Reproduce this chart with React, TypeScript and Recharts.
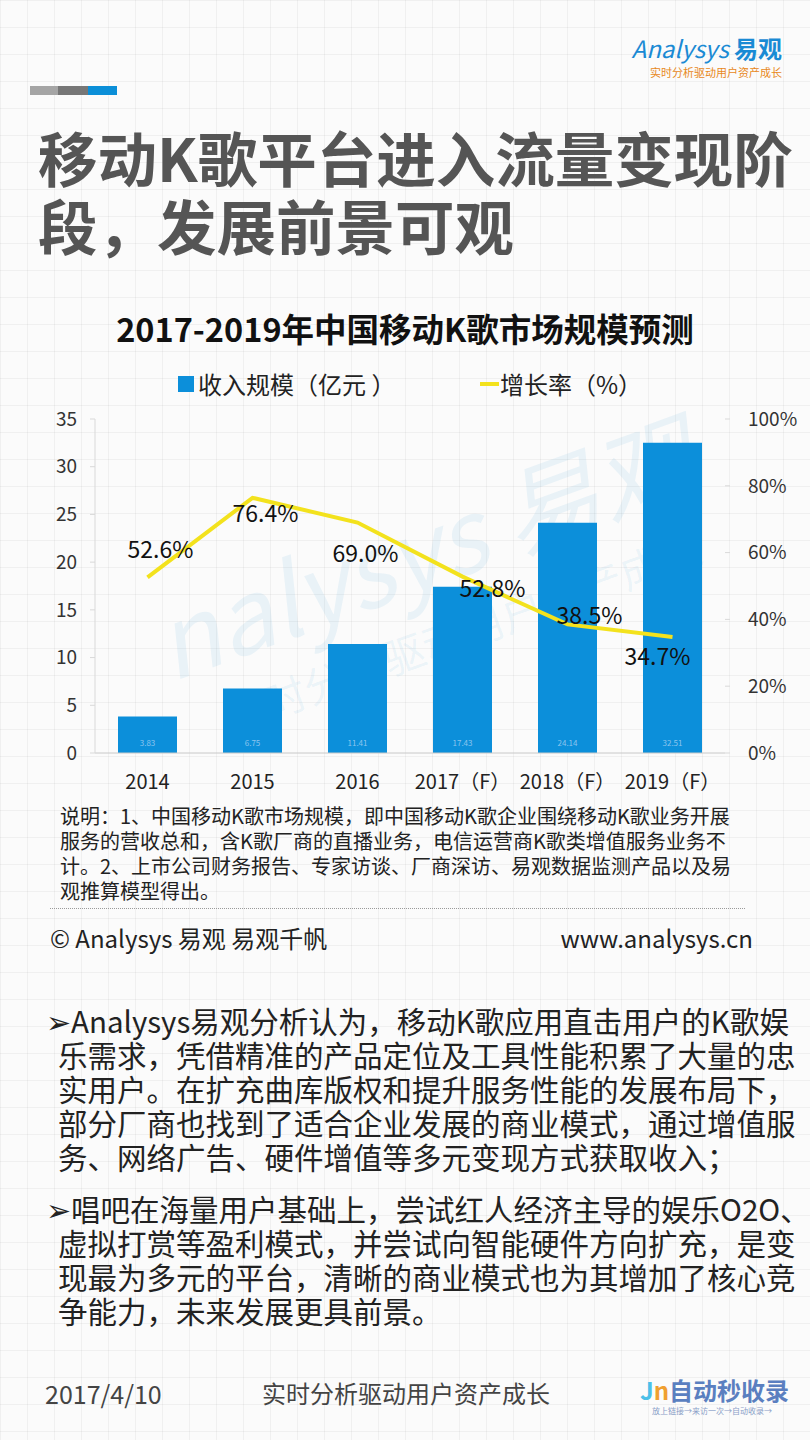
import React from 'react';
import { ComposedChart, Bar, Line, XAxis, YAxis, LabelList } from 'recharts';

const years = ['2014', '2015', '2016', '2017（F）', '2018（F）', '2019（F）'];
const revenue = [3.83, 6.75, 11.41, 17.43, 24.14, 32.51];
const growth = [52.6, 76.4, 69.0, 52.8, 38.5, 34.7];
const leftTicks = [0, 5, 10, 15, 20, 25, 30, 35];
const rightTicks = [0, 20, 40, 60, 80, 100];

// where each growth label sits relative to its point
const LABEL_OFFSETS = [
  [13, -29],
  [13, 14],
  [8, 29],
  [30, 10],
  [22, -10],
  [-15, 18],
];

const BLUE = '#0c8fda';
const YELLOW = '#f3e21d';
const FONT = '"Noto Sans CJK SC", "Noto Sans", sans-serif';

const rows = years.map((year, i) => ({ year, revenue: revenue[i], growth: growth[i] }));

const note = [
  '说明：1、中国移动K歌市场规模，即中国移动K歌企业围绕移动K歌业务开展',
  '服务的营收总和，含K歌厂商的直播业务，电信运营商K歌类增值服务业务不',
  '计。2、上市公司财务报告、专家访谈、厂商深访、易观数据监测产品以及易',
  '观推算模型得出。',
];

const bullet1 = [
  '➢Analysys易观分析认为，移动K歌应用直击用户的K歌娱',
  '乐需求，凭借精准的产品定位及工具性能积累了大量的忠',
  '实用户。在扩充曲库版权和提升服务性能的发展布局下，',
  '部分厂商也找到了适合企业发展的商业模式，通过增值服',
  '务、网络广告、硬件增值等多元变现方式获取收入；',
];

const bullet2 = [
  '➢唱吧在海量用户基础上，尝试红人经济主导的娱乐O2O、',
  '虚拟打赏等盈利模式，并尝试向智能硬件方向扩充，是变',
  '现最为多元的平台，清晰的商业模式也为其增加了核心竞',
  '争能力，未来发展更具前景。',
];

const renderGrowthLabel = (props: any) => {
  const { x, y, value, index } = props;
  const [dx, dy] = LABEL_OFFSETS[index] || [0, -20];
  return (
    <text
      x={x + dx}
      y={y + dy}
      textAnchor="middle"
      dominantBaseline="central"
      fill="#111"
      fontSize={23}
      fontFamily={FONT}
    >
      {Number(value).toFixed(1)}%
    </text>
  );
};

const Bullet = ({ lines, top }: { lines: string[]; top: number }) => (
  <div style={{ position: 'absolute', left: 46, top, fontSize: 29.5, lineHeight: '34px', color: '#222', whiteSpace: 'nowrap' }}>
    {lines.map((l, i) => (
      <div key={i} style={{ paddingLeft: i === 0 ? 0 : 12 }}>{l}</div>
    ))}
  </div>
);

const App = () => {
  return (
    <div
      style={{
        position: 'absolute',
        left: 0,
        top: 0,
        width: 810,
        height: 1440,
        overflow: 'hidden',
        fontFamily: FONT,
        backgroundColor: '#fbfbfb',
        backgroundImage:
          'linear-gradient(rgba(0,0,0,0.045) 1px, transparent 1px), linear-gradient(90deg, rgba(0,0,0,0.045) 1px, transparent 1px)',
        backgroundSize: '27px 27px',
      }}
    >
      {/* top logo */}
      <div style={{ position: 'absolute', right: 28, top: 30, fontSize: 24, color: '#1a8ad4', fontStyle: 'italic', whiteSpace: 'nowrap' }}>
        Analysys <span style={{ fontStyle: 'normal', fontWeight: 700 }}>易观</span>
      </div>
      <div style={{ position: 'absolute', right: 28, top: 64, fontSize: 11, color: '#e8891b', whiteSpace: 'nowrap' }}>
        实时分析驱动用户资产成长
      </div>

      {/* colour strip */}
      <div style={{ position: 'absolute', left: 30, top: 86, width: 28, height: 9, background: '#a5a5a5' }} />
      <div style={{ position: 'absolute', left: 58, top: 86, width: 30, height: 9, background: '#777' }} />
      <div style={{ position: 'absolute', left: 88, top: 86, width: 29, height: 9, background: '#0b8fd8' }} />

      {/* heading */}
      <div style={{ position: 'absolute', left: 38, top: 122, fontSize: 59.5, fontWeight: 700, lineHeight: '68px', color: '#555', whiteSpace: 'nowrap' }}>
        <div>移动K歌平台进入流量变现阶</div>
        <div>段，发展前景可观</div>
      </div>

      {/* chart title */}
      <div style={{ position: 'absolute', left: 0, top: 309, width: 810, textAlign: 'center', fontSize: 32.5, fontWeight: 700, lineHeight: '38px', color: '#111' }}>
        2017-2019年中国移动K歌市场规模预测
      </div>

      {/* legend */}
      <div style={{ position: 'absolute', left: 178, top: 376, width: 16, height: 16, background: BLUE }} />
      <div style={{ position: 'absolute', left: 198, top: 368, fontSize: 24, lineHeight: '32px', color: '#222', whiteSpace: 'nowrap' }}>
        收入规模（亿元 ）
      </div>
      <div style={{ position: 'absolute', left: 480, top: 382, width: 19, height: 4, background: YELLOW }} />
      <div style={{ position: 'absolute', left: 500, top: 368, fontSize: 24, lineHeight: '32px', color: '#222', whiteSpace: 'nowrap' }}>
        增长率（%）
      </div>

      {/* watermark */}
      <div style={{ position: 'absolute', left: 140, top: 490, fontSize: 100, fontStyle: 'italic', color: 'rgba(20,140,210,0.08)', transform: 'rotate(-20deg)', whiteSpace: 'nowrap', lineHeight: '110px' }}>
        nalysys 易观
      </div>
      <div style={{ position: 'absolute', left: 210, top: 600, fontSize: 42, color: 'rgba(20,140,210,0.07)', transform: 'rotate(-20deg)', whiteSpace: 'nowrap' }}>
        实时分析驱动用户资产成长
      </div>

      {/* chart */}
      <div style={{ position: 'absolute', left: 0, top: 360 }}>
        <ComposedChart width={810} height={460} data={rows} margin={{ top: 59, right: 15, bottom: 27, left: 35 }}>
          <XAxis
            dataKey="year"
            interval={0}
            height={40}
            axisLine={{ stroke: '#c8c8c8' }}
            tickLine={false}
            tickMargin={16}
            tick={{ fill: '#222', fontSize: 20, fontFamily: FONT }}
          />
          <YAxis
            yAxisId="left"
            domain={[0, 35]}
            ticks={leftTicks}
            width={60}
            axisLine={{ stroke: '#d9d9d9' }}
            tickLine={{ stroke: '#d9d9d9' }}
            tickSize={5}
            tickMargin={13}
            tick={{ fill: '#333', fontSize: 19, fontFamily: FONT }}
          />
          <YAxis
            yAxisId="right"
            orientation="right"
            domain={[0, 100]}
            ticks={rightTicks}
            tickFormatter={(v: number) => `${v}%`}
            width={70}
            axisLine={false}
            tickLine={{ stroke: '#d9d9d9' }}
            tickSize={5}
            tickMargin={18}
            tick={{ fill: '#333', fontSize: 19, fontFamily: FONT }}
          />
          <Bar yAxisId="left" dataKey="revenue" fill={BLUE} barSize={59} isAnimationActive={false}>
            <LabelList dataKey="revenue" position="insideBottom" offset={7} fill="#8cc5ee" fontSize={8} />
          </Bar>
          <Line
            yAxisId="right"
            dataKey="growth"
            type="linear"
            stroke={YELLOW}
            strokeWidth={4}
            dot={false}
            activeDot={false}
            isAnimationActive={false}
          >
            <LabelList dataKey="growth" content={renderGrowthLabel} />
          </Line>
        </ComposedChart>
      </div>

      {/* note */}
      <div style={{ position: 'absolute', left: 60, top: 803, fontSize: 20, lineHeight: '25px', color: '#222', whiteSpace: 'nowrap' }}>
        {note.map((l, i) => (
          <div key={i}>{l}</div>
        ))}
      </div>
      <div style={{ position: 'absolute', left: 50, top: 908, width: 695, borderTop: '1px dotted #9a9a9a' }} />
      <div style={{ position: 'absolute', left: 50, top: 922, fontSize: 24, lineHeight: '32px', color: '#222', whiteSpace: 'nowrap' }}>
        © Analysys 易观 易观千帆
      </div>
      <div style={{ position: 'absolute', right: 57, top: 922, fontSize: 24, lineHeight: '32px', color: '#222', whiteSpace: 'nowrap' }}>
        www.analysys.cn
      </div>

      {/* commentary */}
      <Bullet lines={bullet1} top={1003} />
      <Bullet lines={bullet2} top={1191} />

      {/* footer */}
      <div style={{ position: 'absolute', left: 45, top: 1377, fontSize: 25, lineHeight: '32px', color: '#444', whiteSpace: 'nowrap' }}>
        2017/4/10
      </div>
      <div style={{ position: 'absolute', left: 262, top: 1377, fontSize: 24, lineHeight: '32px', color: '#444', whiteSpace: 'nowrap' }}>
        实时分析驱动用户资产成长
      </div>
      <div style={{ position: 'absolute', left: 640, top: 1375, fontSize: 24, lineHeight: '30px', fontWeight: 700, whiteSpace: 'nowrap' }}>
        <span style={{ color: '#4cc0e8' }}>J</span>
        <span style={{ color: '#f0a030' }}>n</span>
        <span style={{ color: '#5a7fc0' }}>自动秒收录</span>
      </div>
      <div style={{ position: 'absolute', left: 652, top: 1405, fontSize: 8, color: '#8aa0c8', whiteSpace: 'nowrap' }}>
        放上链接→来访一次→自动收录→
      </div>
    </div>
  );
};

export default App;
